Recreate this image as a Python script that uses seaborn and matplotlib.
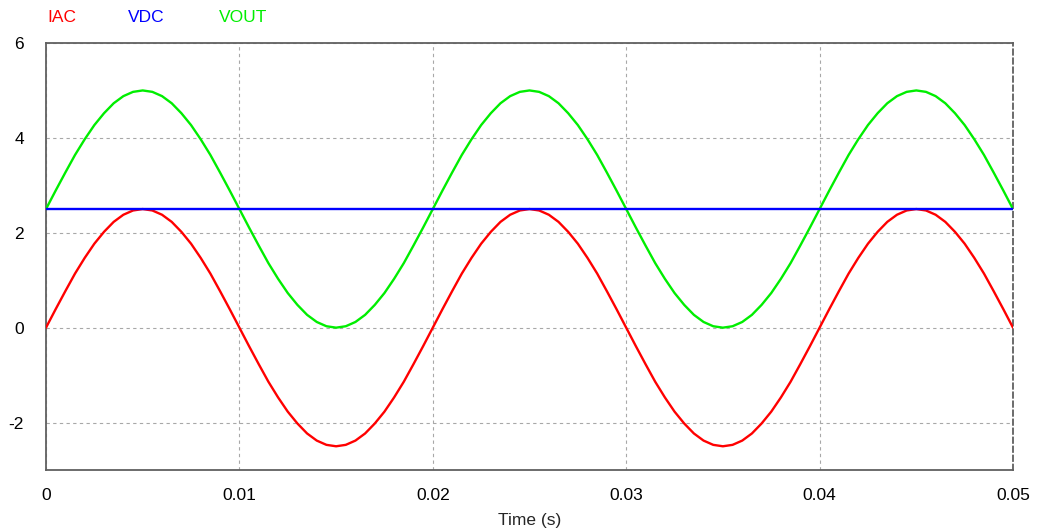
import numpy as np
import pandas as pd
import matplotlib
matplotlib.use("Agg")
import matplotlib.pyplot as plt
import seaborn as sns

# ==========================================
# 数据（从图上读取，每 0.5 ms 一个采样点）
# ==========================================
TIME_S = np.round(np.arange(101) * 0.0005, 4)

IAC = [
    0.00, 0.39, 0.77, 1.14, 1.47, 1.77, 2.02, 2.23, 2.38, 2.47,
    2.50, 2.47, 2.38, 2.23, 2.02, 1.77, 1.47, 1.14, 0.77, 0.39,
    0.00, -0.39, -0.77, -1.14, -1.47, -1.77, -2.02, -2.23, -2.38, -2.47,
    -2.50, -2.47, -2.38, -2.23, -2.02, -1.77, -1.47, -1.14, -0.77, -0.39,
    0.00, 0.39, 0.77, 1.14, 1.47, 1.77, 2.02, 2.23, 2.38, 2.47,
    2.50, 2.47, 2.38, 2.23, 2.02, 1.77, 1.47, 1.14, 0.77, 0.39,
    0.00, -0.39, -0.77, -1.14, -1.47, -1.77, -2.02, -2.23, -2.38, -2.47,
    -2.50, -2.47, -2.38, -2.23, -2.02, -1.77, -1.47, -1.14, -0.77, -0.39,
    0.00, 0.39, 0.77, 1.14, 1.47, 1.77, 2.02, 2.23, 2.38, 2.47,
    2.50, 2.47, 2.38, 2.23, 2.02, 1.77, 1.47, 1.14, 0.77, 0.39,
    0.00,
]

VDC = [2.5] * 101

VOUT = [
    2.50, 2.89, 3.27, 3.64, 3.97, 4.27, 4.52, 4.73, 4.88, 4.97,
    5.00, 4.97, 4.88, 4.73, 4.52, 4.27, 3.97, 3.64, 3.27, 2.89,
    2.50, 2.11, 1.73, 1.36, 1.03, 0.73, 0.48, 0.27, 0.12, 0.03,
    0.00, 0.03, 0.12, 0.27, 0.48, 0.73, 1.03, 1.36, 1.73, 2.11,
    2.50, 2.89, 3.27, 3.64, 3.97, 4.27, 4.52, 4.73, 4.88, 4.97,
    5.00, 4.97, 4.88, 4.73, 4.52, 4.27, 3.97, 3.64, 3.27, 2.89,
    2.50, 2.11, 1.73, 1.36, 1.03, 0.73, 0.48, 0.27, 0.12, 0.03,
    0.00, 0.03, 0.12, 0.27, 0.48, 0.73, 1.03, 1.36, 1.73, 2.11,
    2.50, 2.89, 3.27, 3.64, 3.97, 4.27, 4.52, 4.73, 4.88, 4.97,
    5.00, 4.97, 4.88, 4.73, 4.52, 4.27, 3.97, 3.64, 3.27, 2.89,
    2.50,
]

SERIES = ["IAC", "VDC", "VOUT"]
COLORS = {"IAC": "#ff0000", "VDC": "#0000ff", "VOUT": "#00ee00"}
X_TICKS = [0, 0.01, 0.02, 0.03, 0.04, 0.05]
X_LABELS = ["0", "0.01", "0.02", "0.03", "0.04", "0.05"]
Y_TICKS = [-2, 0, 2, 4, 6]

# ==========================================
# 绘图
# ==========================================
sns.set_style("white")
plt.rcParams["font.family"] = ["Liberation Sans", "DejaVu Sans"]
plt.rcParams["axes.unicode_minus"] = False

df = pd.DataFrame({"Time": TIME_S, "IAC": IAC, "VDC": VDC, "VOUT": VOUT})
long = df.melt(id_vars="Time", var_name="signal", value_name="value")

fig = plt.figure(figsize=(10.38, 5.29), dpi=100)
ax = fig.add_axes([46 / 1038, 1 - 470 / 529, (1013 - 46) / 1038, (470 - 43) / 529])

for name in SERIES:
    sns.lineplot(data=long[long["signal"] == name], x="Time", y="value",
                 color=COLORS[name], linewidth=1.7, ax=ax, legend=False,
                 zorder=3 if name != "VDC" else 4)

ax.set_xlim(0, 0.05)
ax.set_ylim(-3, 6)
ax.set_xticks(X_TICKS)
ax.set_xticklabels(X_LABELS)
ax.set_yticks(Y_TICKS)
ax.tick_params(axis="both", length=0, labelsize=12.5, colors="black")
ax.tick_params(axis="x", pad=13)
ax.tick_params(axis="y", pad=16)
ax.set_xlabel("Time (s)", fontsize=12.5, labelpad=7)
ax.set_ylabel("")

# 网格：浅灰虚线
ax.grid(True, color="#a8a8a8", linestyle=(0, (3, 3)), linewidth=0.8)

for side in ["left", "bottom", "top"]:
    ax.spines[side].set_color("#606060")
    ax.spines[side].set_linewidth(1.3)
ax.spines["right"].set_color("#606060")
ax.spines["right"].set_linewidth(1.3)
ax.spines["right"].set_linestyle((0, (3, 2)))

# 顶部图例文字
for name, xpix in zip(SERIES, [47, 128, 219]):
    fig.text(xpix / 1038, 1 - 18 / 529, name, color=COLORS[name],
             fontsize=12.5, ha="left", va="center")

fig.savefig("out.png", dpi=100)
plt.close(fig)
print("[OK] 已保存: out.png")
